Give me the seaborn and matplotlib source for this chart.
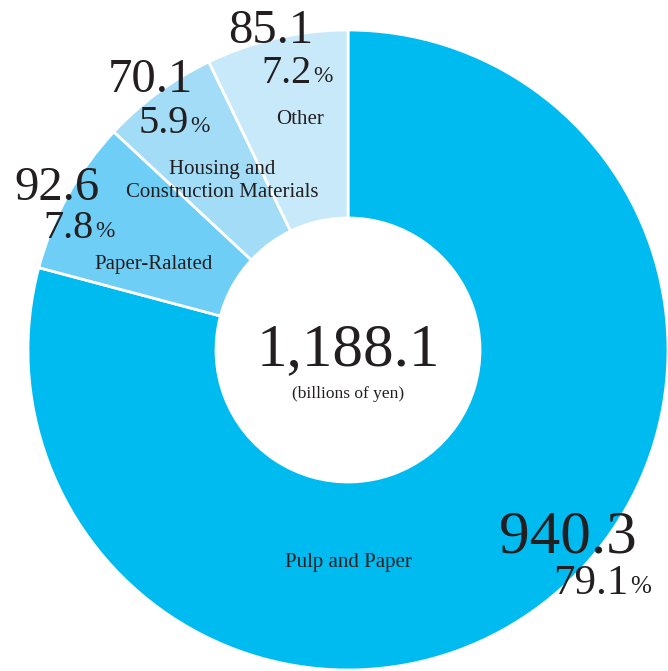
import matplotlib
matplotlib.use("Agg")
import matplotlib.pyplot as plt
import seaborn as sns

sns.set_theme(style="white")
plt.rcParams["font.family"] = ["Liberation Serif", "DejaVu Serif"]

# Net sales by segment (billions of yen)
segments = ["Pulp and Paper", "Paper-Ralated", "Housing and\nConstruction Materials", "Other"]
sales = [940.3, 92.6, 70.1, 85.1]
total_label = "1,188.1"
unit_label = "(billions of yen)"
colors = ["#00BBEF", "#6ECEF6", "#A2DCF7", "#C8E9F9"]

W, H = 668, 671
fig = plt.figure(figsize=(W / 100, H / 100), dpi=100)
ax = fig.add_axes([0, 0, 1, 1])

cx, cy, R, r = 348, H - 350, 320, 132
ax.pie(sales, colors=colors, startangle=90, counterclock=False,
       center=(cx, cy), radius=R, frame=True,
       wedgeprops=dict(width=R - r, edgecolor="white", linewidth=2))
ax.set_xlim(0, W)
ax.set_ylim(0, H)
ax.set_aspect("equal")
ax.axis("off")

ink = "#231F20"


def put(x, y, s, size, **kw):
    return ax.text(x, H - y, s, fontsize=size, color=ink,
                   ha=kw.pop("ha", "center"), va=kw.pop("va", "center"), **kw)


def value_block(x, y_val, y_pct, value, pct, vsize, psize, pct_x):
    put(x, y_val, f"{value:.1f}", vsize)
    t = put(pct_x, y_pct, f"{pct:.1f}", psize, ha="right", va="baseline")
    ax.annotate("%", xy=(1, 0), xycoords=t, xytext=(1, psize * 0.12),
                textcoords="offset points", fontsize=psize * 0.58,
                color=ink, ha="left", va="bottom")


total = sum(sales)
pcts = [v / total * 100 for v in sales]

label_size = 15

# Pulp and Paper
value_block(568, 538, 594, sales[0], pcts[0], 44, 31, 629)
put(348, 563, segments[0], label_size)

# Paper-Ralated
value_block(57, 188, 238, sales[1], pcts[1], 35, 29, 94)
put(154, 265, segments[1], label_size)

# Housing and Construction Materials
value_block(150, 80, 133, sales[2], pcts[2], 35, 29, 189)
put(222, 181, segments[2], label_size, linespacing=1.25)

# Other
value_block(271, 31, 83, sales[3], pcts[3], 35, 29, 312)
put(300, 120, segments[3], label_size)

# Centre total
put(348, 350, total_label, 44)
put(348, 394, unit_label, 12.5)

fig.savefig("out.png", dpi=100, facecolor="white")
